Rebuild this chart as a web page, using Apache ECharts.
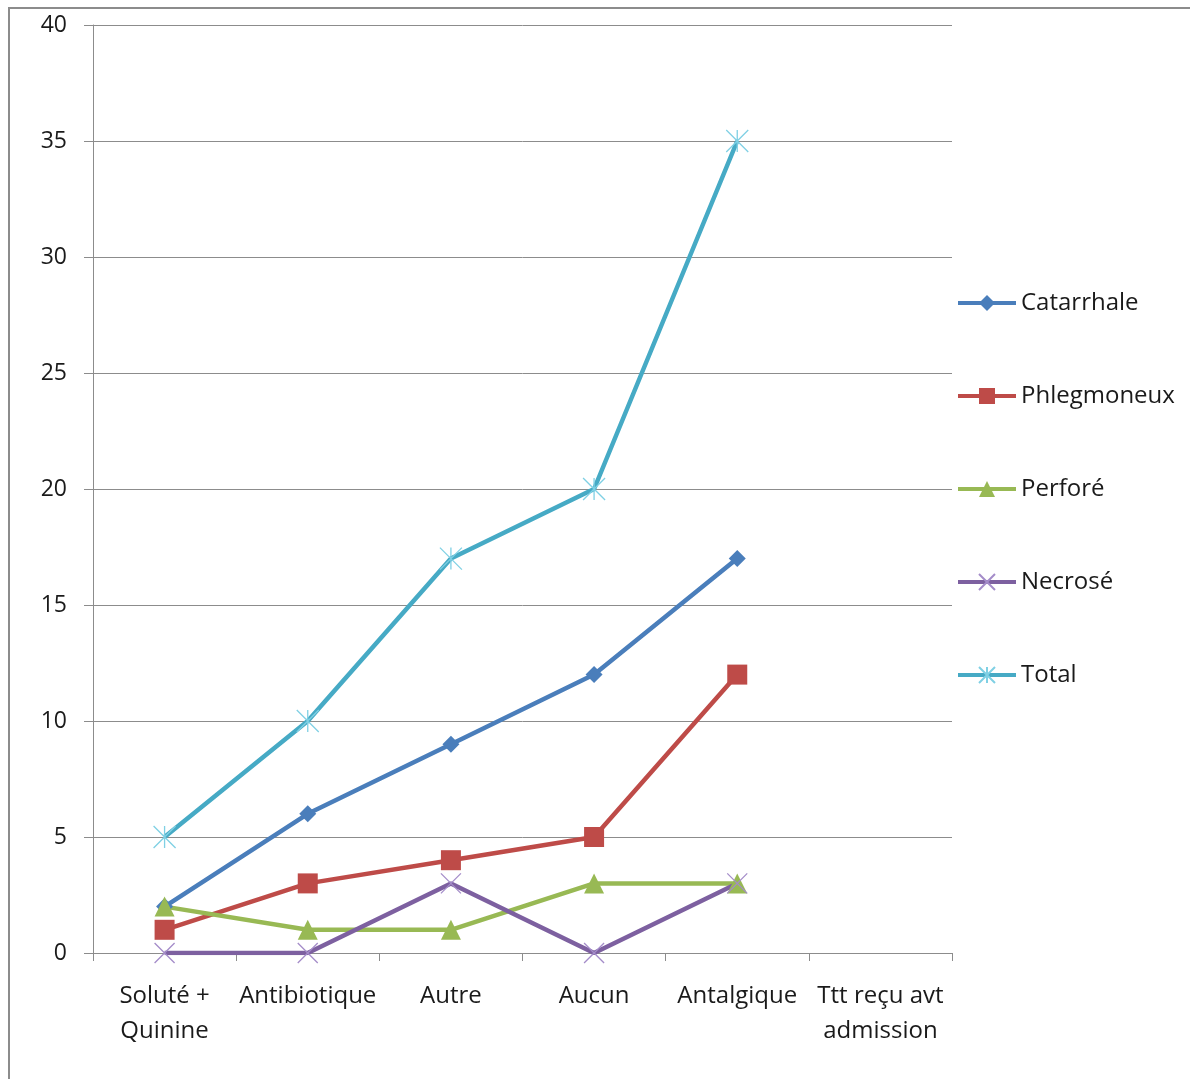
<!DOCTYPE html>
<html>
<head>
<meta charset="utf-8">
<script src="https://cdn.jsdelivr.net/npm/echarts@6/dist/echarts.min.js"></script>
<style>
html,body{margin:0;padding:0;background:#fff;}
#chart{width:1190px;height:1079px;}
</style>
</head>
<body>
<div id="chart"></div>
<script>
const categories = ['Soluté +\nQuinine', 'Antibiotique', 'Autre', 'Aucun', 'Antalgique', 'Ttt reçu avt\nadmission'];
const catarrhale = [2, 6, 9, 12, 17, null];
const phlegmoneux = [1, 3, 4, 5, 12, null];
const perfore = [2, 1, 1, 3, 3, null];
const necrose = [0, 0, 3, 0, 3, null];
const total = [5, 10, 17, 20, 35, null];
const yTicks = [0, 5, 10, 15, 20, 25, 30, 35, 40];

const FONT = '"Open Sans", sans-serif';
const chart = echarts.init(document.getElementById('chart'));

function mk(name, data, color, symbol, size, extra) {
  return Object.assign({
    name: name,
    type: 'line',
    data: data,
    symbol: symbol,
    symbolSize: size,
    showAllSymbol: true,
    connectNulls: false,
    lineStyle: {color: color, width: 4.5},
    itemStyle: {color: color},
    emphasis: {disabled: true},
    animation: false
  }, extra || {});
}

chart.setOption({
  animation: false,
  backgroundColor: '#ffffff',
  graphic: [{
    type: 'rect',
    shape: {x: 9, y: 8, width: 1250, height: 1150},
    style: {fill: 'none', stroke: '#8c8c8c', lineWidth: 2},
    silent: true
  }],
  grid: {left: 93, top: 25, right: 238, bottom: 126, containLabel: false},
  legend: {
    orient: 'vertical',
    left: 951,
    top: 286,
    itemWidth: 58,
    itemHeight: 20,
    itemGap: 69,
    lineStyle: {width: 4},
    textStyle: {fontFamily: FONT, fontSize: 24, color: '#1a1a1a', lineHeight: 22},
    data: ['Catarrhale', 'Phlegmoneux', 'Perforé', 'Necrosé', 'Total']
  },
  xAxis: {
    type: 'category',
    data: categories,
    boundaryGap: true,
    axisLine: {show: true, lineStyle: {color: '#8c8c8c', width: 1}},
    axisTick: {show: true, length: 8, lineStyle: {color: '#8c8c8c'}},
    axisLabel: {fontFamily: FONT, fontSize: 24, color: '#1a1a1a', lineHeight: 35, margin: 26, interval: 0, align: 'center'},
    splitLine: {show: false}
  },
  yAxis: {
    type: 'value',
    min: yTicks[0],
    max: yTicks[yTicks.length - 1],
    interval: 5,
    axisLine: {show: true, lineStyle: {color: '#8c8c8c', width: 1}},
    axisTick: {show: true, length: 9, lineStyle: {color: '#8c8c8c'}},
    axisLabel: {fontFamily: FONT, fontSize: 23, color: '#1a1a1a', margin: 26},
    splitLine: {show: true, lineStyle: {color: '#8c8c8c', width: 1}}
  },
  series: [
    mk('Catarrhale', catarrhale, '#4a7ebb', 'diamond', 17),
    mk('Phlegmoneux', phlegmoneux, '#be4b48', 'rect', 20),
    mk('Perforé', perfore, '#98b954', 'triangle', 20),
    mk('Necrosé', necrose, '#7d60a0', 'path://M0,0L10,10M10,0L0,10', 20, {
      itemStyle: {color: '#7d60a0', borderColor: '#a48cc9', borderWidth: 1.3}
    }),
    mk('Total', total, '#46aac5', 'path://M0,0L10,10M10,0L0,10M5,0L5,10', 22, {
      itemStyle: {color: '#46aac5', borderColor: '#7fd0e4', borderWidth: 1.3}
    })
  ]
});
</script>
</body>
</html>
